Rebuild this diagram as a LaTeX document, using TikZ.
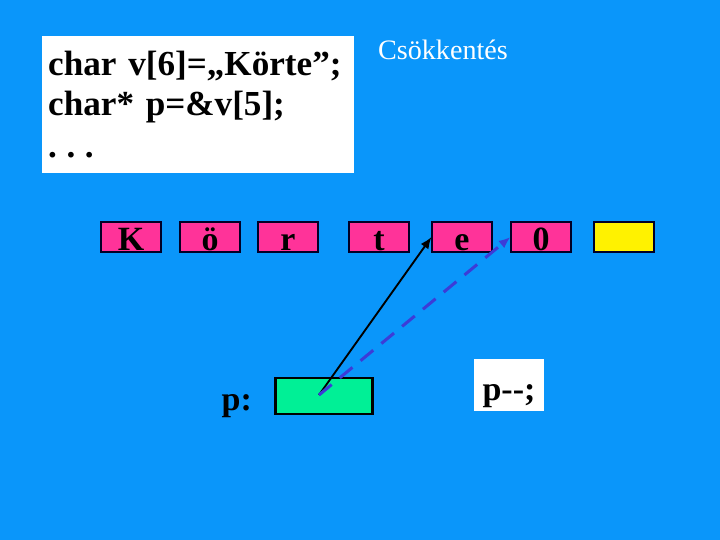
\documentclass[tikz,border=0pt]{standalone}
\usepackage{fontspec}
\setmainfont{Liberation Serif}
\usetikzlibrary{arrows.meta,positioning}

\definecolor{slidebg}{RGB}{10,150,250}
\definecolor{cellpink}{RGB}{255,51,153}
\definecolor{ptrgreen}{RGB}{0,240,150}
\definecolor{dashblue}{RGB}{60,60,215}

\tikzset{
  cell/.style={draw=black!85!blue, line width=0.9pt, fill=cellpink, minimum width=1.8cm, minimum height=0.9cm,
    inner sep=0pt, text height=24.5pt, text depth=1pt, font=\bfseries\fontsize{29}{30}\selectfont},
  label/.style={font=\bfseries\fontsize{29}{32}\selectfont},
  ptr/.style={-{Latex[length=10pt,width=8pt]}, line width=1.6pt}
}

\begin{document}
\begin{tikzpicture}[x=0.03cm,y=-0.03cm]
% Background
\fill[slidebg] (0,0) rectangle (720,540);

% Code box
\node[fill=white, anchor=north west, minimum width=9.36cm, minimum height=4.11cm, inner xsep=0.18cm,
  text width=9cm, align=left, font=\bfseries\fontsize{30}{34}\selectfont\frenchspacing] (code) at (42,36)
  {char v[6]=„Körte”;\\char* p=\&v[5];\\[2pt].\hspace{0.27em}.\hspace{0.27em}.};

% Title
\node[text=white, font=\fontsize{24}{26}\selectfont] (title) at (443,50) {Csökkentés};

% Cells
\foreach \x/\ch/\name in {131/K/k, 210/ö/o, 288/r/r, 379/t/t, 462/e/e, 541/0/z} {
    \node[cell] (\name) at (\x,237) {\ch};
}
\node[cell, fill=yellow] (end) at (624,237) {};

% Pointer
\node[label, anchor=east] (plabel) at (256,406) {p:};
\node[draw, line width=2pt, fill=ptrgreen, minimum width=2.91cm, minimum height=1.08cm] (pbox) at (324,396) {};
\node[label, fill=white, minimum width=2.1cm, minimum height=1.53cm, inner sep=0pt,
  text height=33pt, text depth=7pt] (dec) at (509,385) {p-{}-;};

% Arrows
\coordinate (pstart) at (319,395);
\draw[ptr] (pstart) -- (e.west);
\draw[ptr, dashblue, line width=2.6pt, dash pattern=on 14pt off 9pt] (pstart) -- (z.west);

\end{tikzpicture}
\end{document}
